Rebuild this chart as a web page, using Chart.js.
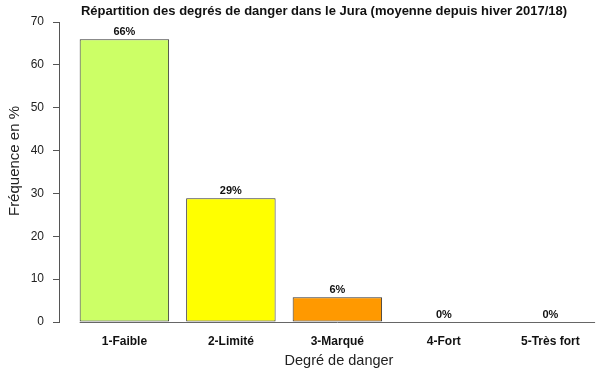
<!DOCTYPE html>
<html>
<head>
<meta charset="utf-8">
<script src="https://cdn.jsdelivr.net/npm/chart.js@4/dist/chart.umd.min.js"></script>
<style>
    html, body { margin: 0; padding: 0; background: #fff; }
    #wrap { width: 616px; height: 370px; }
</style>
</head>
<body>
<div id="wrap"><canvas id="chart" width="616" height="370"></canvas></div>
<script>
// data
var categories = ["1-Faible", "2-Limité", "3-Marqué", "4-Fort", "5-Très fort"];
var frequencies = [66, 28.9, 5.8, 0, 0];
var barColors = ["#ccff66", "#ffff00", "#ff9900", "#ff0000", "#000000"];
var yTicks = [0, 10, 20, 30, 40, 50, 60, 70];

var chartTitle = "Répartition des degrés de danger dans le Jura (moyenne depuis hiver 2017/18)";
var yTitle = "Fréquence en %";
var xTitle = "Degré de danger";

var font = "'Liberation Sans', Arial, sans-serif";

var points = categories.map(function(c, i) {
    return { x: i + 1, y: frequencies[i] };
});

// R-style extras: baseline, value labels, titles
var extras = {
    id: "extras",
    beforeDatasetsDraw: function(chart) {
        var ctx = chart.ctx;
        var meta = chart.getDatasetMeta(0);
        var first = meta.data[0], last = meta.data[meta.data.length - 1];
        var y0 = chart.scales.y.getPixelForValue(0);
        ctx.save();
        ctx.strokeStyle = "#666";
        ctx.lineWidth = 1;
        ctx.beginPath();
        ctx.moveTo(first.x - first.width / 2, Math.round(y0) + 0.5);
        ctx.lineTo(last.x + last.width / 2, Math.round(y0) + 0.5);
        ctx.stroke();
        ctx.restore();
    },
    afterDatasetsDraw: function(chart) {
        var ctx = chart.ctx;
        var meta = chart.getDatasetMeta(0);
        ctx.save();
        ctx.font = "bold 11px " + font;
        ctx.fillStyle = "#111";
        ctx.textAlign = "center";
        ctx.textBaseline = "alphabetic";
        meta.data.forEach(function(bar, i) {
            ctx.fillText(Math.round(frequencies[i]) + "%", bar.x, bar.y - 4);
        });
        ctx.restore();
    },
    afterDraw: function(chart) {
        var ctx = chart.ctx;
        var area = chart.chartArea;
        ctx.save();
        ctx.fillStyle = "#111";
        ctx.textAlign = "center";

        ctx.font = "bold 13px " + font;
        ctx.textBaseline = "middle";
        ctx.fillText(chartTitle, 324, 11);

        ctx.font = "14.5px " + font;
        ctx.fillStyle = "#222";
        ctx.fillText(xTitle, (area.left + area.right) / 2 + 2, 361);

        ctx.font = "15px " + font;
        ctx.translate(15, 161);
        ctx.rotate(-Math.PI / 2);
        ctx.fillText(yTitle, 0, 0);
        ctx.restore();
    }
};

var chart = new Chart(document.getElementById("chart"), {
    type: "bar",
    data: {
        datasets: [{
            data: points,
            backgroundColor: barColors,
            borderColor: "#333",
            borderWidth: 1,
            borderSkipped: false,
            barPercentage: 0.84,
            categoryPercentage: 1
        }]
    },
    options: {
        responsive: false,
        animation: false,
        layout: { padding: { left: 0, right: 1, top: 22, bottom: 0 } },
        plugins: {
            legend: { display: false },
            tooltip: { enabled: false }
        },
        scales: {
            x: {
                type: "linear",
                min: 0.386,
                max: 5.607,
                offset: false,
                grid: { display: false, drawTicks: false },
                border: { display: false },
                afterBuildTicks: function(scale) {
                    scale.ticks = categories.map(function(c, i) { return { value: i + 1 }; });
                },
                afterFit: function(scale) { scale.height = 48; },
                ticks: {
                    padding: 12,
                    autoSkip: false,
                    maxRotation: 0,
                    color: "#111",
                    font: { family: font, size: 12, weight: "bold" },
                    callback: function(v) { return categories[v - 1]; }
                }
            },
            y: {
                min: 0,
                max: 70,
                afterBuildTicks: function(scale) {
                    scale.ticks = yTicks.map(function(v) { return { value: v }; });
                },
                afterFit: function(scale) { scale.width = 59; },
                grid: {
                    drawOnChartArea: false,
                    drawTicks: true,
                    tickLength: 6,
                    color: "#555"
                },
                border: { display: true, color: "#555", width: 1 },
                ticks: {
                    padding: 9,
                    color: "#222",
                    font: { family: font, size: 12 }
                }
            }
        }
    },
    plugins: [extras]
});
</script>
</body>
</html>
